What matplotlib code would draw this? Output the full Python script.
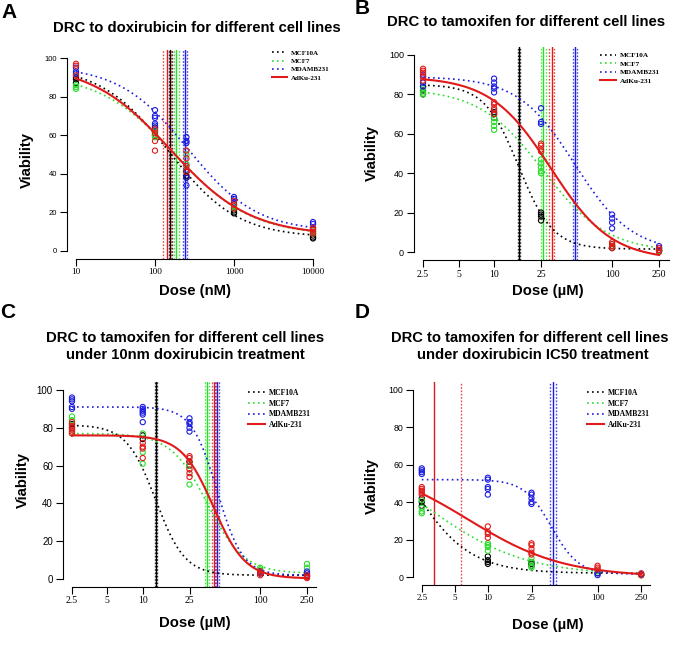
import numpy as np
import matplotlib
matplotlib.use('Agg')
import matplotlib.pyplot as plt
from matplotlib.lines import Line2D

SANS = 'Liberation Sans'
SERIF = 'Liberation Serif'

cell_lines = ['MCF10A', 'MCF7', 'MDAMB231', 'AdKu-231']
line_colors = ['#000000', '#2add2a', '#1c1ce0', '#e01a1a']

# --- A: doxirubicin (nM) ---
a_doses = [10, 100, 250, 1000, 10000]
a_mcf10a = [[87, 89, 90], [62, 64, 60], [38, 39, 41], [20, 21, 19.5], [6.5, 7, 8]]
a_mcf7 = [[84, 85, 86], [59, 60, 62], [45, 44, 50], [22, 23, 24], [10, 9, 11]]
a_mdamb231 = [[92, 93, 95], [73, 70, 69, 66, 65], [59, 57, 56, 38, 34], [28, 27, 25], [15, 14, 12]]
a_adku = [[97, 96, 91], [63, 57, 52, 61], [52, 48, 44, 41], [26, 24, 22], [12, 11, 10, 9]]
# fitted 4-parameter log-logistic: (top, bottom, ec50, hill)
a_fits = [(96, 7, 150, 1.0), (92, 8, 180, 0.9), (96, 10, 260, 1.0), (97, 8, 157, 0.86)]
# IC50 with confidence limits: (lower, estimate, upper)
a_ic50 = [(150, 157, 165), (172, 186, 200), (228, 240, 256), (125, 141, 158)]

# --- B: tamoxifen (uM) ---
b_doses = [2.5, 10, 25, 100, 250]
b_mcf10a = [[80, 82, 84], [68, 70, 71], [20, 18, 16, 19], [2, 3], [1, 0.5]]
b_mcf7 = [[80, 81, 83], [62, 64, 66, 68], [40, 41, 43, 45, 47], [3, 4], [1, 0.5]]
b_mdamb231 = [[84, 86, 89, 90], [81, 83, 84, 86, 88], [73, 66, 65], [19, 17, 15, 12], [3, 2]]
b_adku = [[87, 89, 91, 92, 93], [70, 72, 73, 75, 76], [51, 52, 54, 55], [2, 3, 4, 5], [0, 1, 2]]
b_fits = [(85, 1.5, 16.2, 3.0), (83, 0, 26, 1.6), (89, 0, 48.4, 1.8), (89, -4, 30.3, 1.7)]
b_ic50 = [(15.9, 16.2, 16.5), (24.8, 26.1, 27.3), (46.3, 48.4, 50.7), (29.1, 30.7, 32.1)]

# --- C: tamoxifen under 10nm doxirubicin ---
c_doses = [2.5, 10, 25, 100, 250]
c_mcf10a = [[80, 82], [74, 76], [62, 60], [4, 3], [2, 1.5]]
c_mcf7 = [[84, 86, 77], [77, 67, 61], [60, 50], [5, 6], [6, 8]]
c_mdamb231 = [[90, 91, 94, 95, 96], [83, 87, 88, 89, 90, 91], [78, 80, 82, 83, 85], [3, 4], [3, 4]]
c_adku = [[77, 78, 79, 80, 81, 83], [64, 69, 70, 72], [54, 56, 58, 62, 64, 65], [2, 3, 4], [0.5, 1, 2]]
c_fits = [(81.5, 2, 12.9, 3.5), (77, 3, 35.4, 2.8), (91, 2, 43, 4.0), (76, 0.3, 40, 3.2)]
c_ic50 = [(12.6, 12.9, 13.2), (33.6, 35.4, 36.8), (41.5, 43.0, 45.0), (39.0, 40.4, 42.0)]

# --- D: tamoxifen under doxirubicin IC50 ---
d_doses = [2.5, 10, 25, 100, 250]
d_mcf10a = [[38, 40, 42], [7, 8, 9, 11], [6, 7, 8], [2], [1]]
d_mcf7 = [[34, 35, 37, 41], [14, 16, 17, 18], [5, 6, 8, 10], [3], [1]]
d_mdamb231 = [[55, 56, 57, 58], [44, 47, 48, 52, 53], [39, 40, 42, 44, 45], [1, 2], [1.5]]
d_adku = [[44, 45, 46, 47, 48], [21, 23, 24, 27], [12, 13, 15, 17, 18], [4, 5, 6], [1, 2]]
d_fits = [(102, 2, 1.86, 1.6), (71, 1, 2.96, 1.0), (52, 1.5, 38, 3.5), (61.5, 0, 6.6, 1.0)]
d_ic50 = [None, None, (36.6, 39.3, 41.9), (None, 3.26, 5.68)]

tam_ticks = [2.5, 5, 10, 25, 100, 250]
tam_labels = ['2.5', '5', '10', '25', '100', '250']
dox_ticks = [10, 100, 1000, 10000]
dox_labels = ['10', '100', '1000', '10000']


def loglogistic(x, top, bottom, ec50, hill):
    return bottom + (top - bottom) / (1 + (x / ec50) ** hill)


def draw_panel(rect, doses, series, fits, ic50s, ticks, ticklabels, ytick_fs, xtick_fs, leg_xy, leg_fs):
    ax = fig.add_axes(rect)
    ax.set_xscale('log')
    lo, hi = np.log10(doses[0]), np.log10(doses[-1])
    pad = (hi - lo) * 0.04
    ax.set_xlim(10 ** (lo - pad), 10 ** (hi + pad))
    ax.set_ylim(-4, 104)

    # IC50 lines
    for col, ic in zip(line_colors, ic50s):
        if ic is None:
            continue
        l, e, u = ic
        ax.axvline(e, color=col, lw=1.0, zorder=1)
        for v in (l, u):
            if v is not None:
                ax.axvline(v, color=col, lw=1.0, ls=(0, (1.2, 1.2)), alpha=0.8, zorder=1)

    # raw points
    for col, vals in zip(line_colors, series):
        for d, ys in zip(doses, vals):
            ax.scatter([d] * len(ys), ys, s=14, facecolors='none', edgecolors=col, linewidths=0.8, zorder=3)

    # fitted curves
    xx = np.logspace(lo, hi, 300)
    for i, (col, p) in enumerate(zip(line_colors, fits)):
        if i == 3:
            ax.plot(xx, loglogistic(xx, *p), color=col, lw=1.5, zorder=4)
        else:
            ax.plot(xx, loglogistic(xx, *p), color=col, lw=1.2, ls=(0, (1, 2)), zorder=2)

    ax.set_xticks(ticks)
    ax.set_xticklabels(ticklabels, fontfamily=SERIF, fontsize=xtick_fs)
    ax.minorticks_off()
    ax.set_yticks([0, 20, 40, 60, 80, 100])
    ax.set_yticklabels(['0', '20', '40', '60', '80', '100'], fontfamily=SANS, fontsize=ytick_fs)
    ax.tick_params(direction='out', length=5, width=0.8, pad=2)
    for s in ('top', 'right'):
        ax.spines[s].set_visible(False)
    ax.spines['left'].set_bounds(0, 100)
    ax.spines['bottom'].set_bounds(ticks[0], ax.get_xlim()[1] if ticks[-1] < 1000 else ticks[-1])
    ax.spines['left'].set_linewidth(0.8)
    ax.spines['bottom'].set_linewidth(0.8)

    handles = [Line2D([], [], color=c, lw=1.2, ls=(0, (1, 2))) for c in line_colors[:3]]
    handles.append(Line2D([], [], color=line_colors[3], lw=1.5))
    ax.legend(handles, cell_lines, loc='upper left', bbox_to_anchor=leg_xy, bbox_transform=fig.transFigure,
              frameon=False, prop={'family': SERIF, 'weight': 'bold', 'size': leg_fs},
              handlelength=2.2, handletextpad=0.5, labelspacing=0.35, borderpad=0, borderaxespad=0)
    return ax


W, H = 674, 646
fig = plt.figure(figsize=(W / 100, H / 100), dpi=100)


def box(left, top, right, bottom):
    return [left / W, 1 - bottom / H, (right - left) / W, (bottom - top) / H]


draw_panel(box(66.5, 50.3, 322.5, 258.7), a_doses, [a_mcf10a, a_mcf7, a_mdamb231, a_adku], a_fits, a_ic50,
           dox_ticks, dox_labels, 5.5, 6.7, (272 / W, 1 - 50 / H), 5)
draw_panel(box(413.6, 47.1, 668.5, 259.9), b_doses, [b_mcf10a, b_mcf7, b_mdamb231, b_adku], b_fits, b_ic50,
           tam_ticks, tam_labels, 6.5, 7, (600 / W, 1 - 52 / H), 5.2)
draw_panel(box(62.6, 382.4, 316.4, 586.6), c_doses, [c_mcf10a, c_mcf7, c_mdamb231, c_adku], c_fits, c_ic50,
           tam_ticks, tam_labels, 7, 7, (248 / W, 1 - 389 / H), 5.5)
draw_panel(box(413, 382.2, 650, 584.5), d_doses, [d_mcf10a, d_mcf7, d_mdamb231, d_adku], d_fits, d_ic50,
           tam_ticks, tam_labels, 6.3, 6.5, (587 / W, 1 - 389 / H), 5.5)


def ftext(x, y, s, **kw):
    fig.text(x / W, 1 - y / H, s, fontfamily=SANS, fontweight='bold', ha='center', va='center', **kw)


# titles
ftext(197, 28, 'DRC to doxirubicin for different cell lines', fontsize=10.7)
ftext(526, 22, 'DRC to tamoxifen for different cell lines', fontsize=10.7)
ftext(185, 338, 'DRC to tamoxifen for different cell lines', fontsize=10.7)
ftext(185, 355, 'under 10nm doxirubicin treatment', fontsize=10.7)
ftext(530, 338, 'DRC to tamoxifen for different cell lines', fontsize=10.6)
ftext(533, 355, 'under doxirubicin IC50 treatment', fontsize=10.7)

# axis labels
ftext(195, 291, 'Dose (nM)', fontsize=10.7)
ftext(548, 291, 'Dose (µM)', fontsize=10.7)
ftext(195, 623, 'Dose (µM)', fontsize=10.7)
ftext(548, 625, 'Dose (µM)', fontsize=10.7)
ftext(27, 160, 'Viability', fontsize=10.7, rotation=90)
ftext(372, 153, 'Viability', fontsize=10.7, rotation=90)
ftext(23, 480, 'Viability', fontsize=10.7, rotation=90)
ftext(372, 486, 'Viability', fontsize=10.7, rotation=90)

# panel letters
ftext(9, 12, 'A', fontsize=15)
ftext(362, 9, 'B', fontsize=15)
ftext(8, 312, 'C', fontsize=15)
ftext(362, 312, 'D', fontsize=15)

fig.savefig('out.png', dpi=100)
